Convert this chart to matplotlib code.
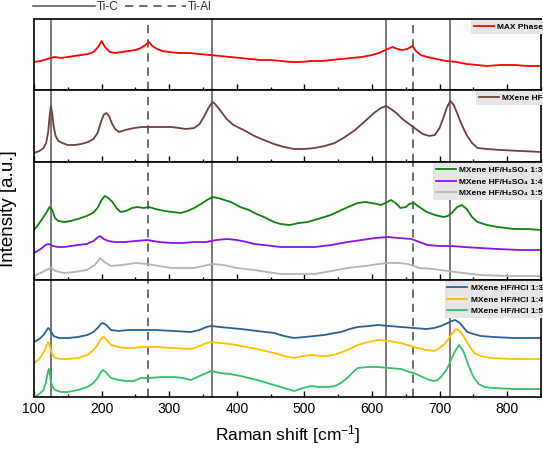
import numpy as np
import matplotlib.pyplot as plt
from matplotlib.lines import Line2D
from matplotlib.ticker import MultipleLocator

plt.rcParams["font.family"] = ["Liberation Sans", "DejaVu Sans"]
plt.rcParams["mathtext.default"] = "regular"

# Ti-C / Ti-Al reference positions [cm-1]
ti_c = [125, 364, 620, 715]
ti_al = [268, 660]

# MAX phase
max_x = [100, 110, 120, 130, 140, 150, 160, 170, 180, 188, 195, 200, 205, 212, 220, 230, 240, 250, 258,
         265, 270, 275, 282, 290, 300, 315, 330, 345, 360, 375, 390, 405, 420, 435, 450, 465, 480, 495,
         510, 525, 540, 555, 570, 585, 600, 610, 620, 630, 638, 645, 652, 660, 665, 672, 682, 695, 710,
         725, 740, 755, 770, 790, 810, 830, 850]
max_y = [28, 29, 31, 33, 32, 33, 34, 35, 36, 38, 43, 49, 43, 38, 37, 38, 39, 40, 42,
         45, 48, 44, 41, 39, 38, 37, 37, 36, 35, 34, 33, 32, 31, 30, 30, 29, 28, 28,
         29, 29, 30, 31, 32, 33, 35, 37, 40, 43, 41, 40, 41, 44, 39, 35, 33, 31, 29,
         28, 26, 25, 24, 25, 25, 24, 24]

# MXene HF
hf_x = [100, 108, 114, 118, 121, 123, 125, 127, 129, 132, 136, 142, 150, 160, 170, 180, 188, 194, 199,
        203, 207, 211, 215, 220, 226, 235, 248, 260, 275, 290, 303, 315, 325, 337, 345, 352, 358, 364,
        368, 375, 385, 395, 410, 426, 440, 455, 470, 485, 500, 515, 530, 545, 560, 575, 590, 603, 613,
        621, 628, 636, 645, 655, 665, 675, 685, 693, 700, 706, 711, 716, 721, 727, 733, 740, 748, 756,
        770, 790, 820, 850]
hf_y = [9, 11, 14, 19, 30, 45, 56, 48, 36, 26, 21, 19, 17, 17, 18, 20, 23, 29, 40,
        47, 49, 46, 39, 33, 30, 32, 34, 35, 35, 35, 35, 34, 33, 34, 38, 46, 54, 60,
        58, 52, 43, 37, 32, 26, 22, 18, 15, 13, 13, 14, 16, 19, 25, 32, 41, 49, 54,
        56, 53, 49, 43, 38, 33, 28, 26, 27, 34, 45, 55, 61, 57, 47, 37, 27, 19, 14,
        13, 12, 11, 10]

# MXene HF/H2SO4
s13_x = [100, 106, 113, 118, 123, 127, 131, 136, 145, 154, 165, 178, 187, 194, 200, 205, 210, 216, 222,
         228, 236, 245, 253, 262, 270, 280, 293, 305, 317, 327, 337, 347, 356, 364, 372, 382, 391, 405,
         418, 426, 440, 455, 465, 478, 492, 505, 520, 539, 555, 568, 579, 590, 599, 607, 613, 620, 628,
         635, 642, 650, 655, 662, 670, 681, 693, 706, 712, 718, 726, 733, 740, 748, 756, 770, 786, 810,
         830, 850]
s13_y = [50, 55, 62, 67, 73, 70, 62, 59, 58, 59, 61, 64, 67, 72, 80, 84, 82, 78, 72,
         68, 69, 72, 73, 72, 73, 71, 69, 68, 67, 69, 72, 76, 80, 83, 82, 80, 78, 73,
         70, 67, 63, 58, 56, 55, 57, 58, 61, 65, 70, 74, 77, 78, 77, 76, 75, 77, 80,
         77, 72, 73, 76, 77, 73, 68, 65, 63, 64, 67, 73, 75, 71, 63, 58, 55, 53, 51,
         51, 50]
s14_x = [100, 110, 117, 122, 128, 135, 145, 155, 165, 178, 188, 195, 198, 203, 210, 219, 235, 250, 268,
         285, 303, 320, 337, 355, 370, 386, 400, 415, 426, 440, 452, 465, 490, 515, 540, 564, 585, 605,
         623, 640, 658, 670, 682, 700, 718, 736, 760, 786, 820, 850]
s14_y = [27, 31, 35, 36, 34, 33, 33, 34, 35, 36, 39, 43, 44, 41, 39, 38, 38, 39, 40,
         38, 37, 37, 38, 38, 40, 41, 40, 38, 36, 35, 34, 33, 33, 33, 35, 38, 40, 42,
         43, 42, 41, 38, 35, 34, 34, 33, 32, 31, 30, 30]
s15_x = [100, 110, 118, 125, 132, 145, 160, 178, 190, 198, 204, 214, 230, 251, 268, 285, 303, 320, 337,
         350, 364, 380, 400, 426, 445, 465, 490, 515, 540, 564, 590, 610, 623, 640, 653, 662, 670, 690,
         712, 735, 761, 800, 850]
s15_y = [4, 7, 10, 12, 9, 7, 8, 10, 15, 22, 18, 14, 15, 17, 16, 14, 12, 12, 12,
         14, 16, 15, 12, 10, 8, 6, 6, 6, 9, 12, 14, 16, 17, 17, 16, 14, 12, 11,
         9, 7, 5, 4, 4]

# MXene HF/HCl
c13_x = [100, 108, 114, 118, 121, 124, 129, 137, 150, 165, 179, 188, 194, 199, 202, 207, 214, 225, 240,
         258, 280, 307, 332, 345, 355, 362, 375, 390, 406, 430, 455, 470, 485, 500, 515, 529, 545, 554,
         567, 579, 595, 609, 625, 643, 662, 680, 692, 702, 712, 718, 723, 730, 736, 741, 750, 761, 780,
         810, 850]
c13_y = [55, 58, 62, 66, 69, 67, 61, 59, 59, 60, 62, 65, 69, 73, 74, 72, 67, 66, 67,
         67, 67, 66, 65, 67, 70, 71, 70, 69, 68, 66, 64, 61, 59, 60, 61, 62, 64, 65,
         68, 70, 71, 72, 71, 70, 69, 68, 69, 71, 74, 76, 77, 74, 69, 65, 63, 61, 60,
         59, 59]
c14_x = [100, 106, 111, 116, 119, 121, 123, 126, 131, 140, 150, 165, 179, 188, 194, 199, 203, 208, 214,
         225, 236, 248, 258, 280, 305, 332, 345, 355, 362, 375, 390, 406, 430, 455, 470, 485, 498, 510,
         522, 534, 548, 560, 570, 579, 594, 609, 625, 643, 662, 680, 692, 700, 706, 712, 718, 724, 730,
         737, 744, 751, 760, 776, 810, 850]
c14_y = [34, 37, 41, 47, 52, 55, 52, 44, 39, 38, 38, 39, 42, 47, 52, 58, 60, 57, 52,
         50, 49, 49, 50, 50, 49, 48, 51, 54, 55, 54, 53, 51, 48, 44, 41, 39, 41, 42,
         41, 41, 43, 46, 49, 52, 55, 57, 56, 54, 50, 47, 46, 49, 52, 57, 63, 68, 66,
         59, 51, 44, 41, 39, 38, 38]
c15_x = [100, 106, 111, 114, 117, 119, 121, 122, 123, 124.5, 127, 131, 140, 150, 165, 179, 188, 194,
         199, 202, 206, 214, 225, 236, 248, 258, 270, 290, 307, 320, 332, 345, 355, 362, 375, 390, 406,
         430, 455, 470, 485, 498, 510, 522, 534, 545, 554, 565, 572, 579, 594, 609, 625, 643, 655, 662,
         675, 685, 692, 697, 702, 710, 717, 723, 729, 735, 741, 746, 751, 758, 766, 780, 810, 850]
c15_y = [0, 2, 5, 7, 13, 20, 26, 28, 26, 17, 11, 7, 5, 5, 7, 10, 14, 19,
         25, 27, 25, 19, 17, 16, 16, 19, 19, 20, 20, 19, 17, 21, 24, 26, 24, 23, 21,
         17, 12, 9, 6, 9, 11, 10, 10, 11, 14, 20, 25, 29, 30, 30, 29, 28, 25, 24,
         20, 17, 16, 17, 20, 27, 37, 46, 52, 46, 35, 26, 19, 13, 10, 9, 8, 8]

panels = [
    [(max_x, max_y, "#ff0000", "MAX Phase")],
    [(hf_x, hf_y, "#6e4040", "MXene HF")],
    [(s13_x, s13_y, "#108010", "MXene HF/H\u2082SO\u2084 1:3"),
     (s14_x, s14_y, "#8a10f0", "MXene HF/H\u2082SO\u2084 1:4"),
     (s15_x, s15_y, "#b4b4b4", "MXene HF/H\u2082SO\u2084 1:5")],
    [(c13_x, c13_y, "#2d5f97", "MXene HF/HCl 1:3"),
     (c14_x, c14_y, "#ffc000", "MXene HF/HCl 1:4"),
     (c15_x, c15_y, "#33c26a", "MXene HF/HCl 1:5")],
]
ylims = [71, 72, 118, 117]

fig = plt.figure(figsize=(5.43, 4.49), dpi=100)
gs = fig.add_gridspec(4, 1, height_ratios=ylims, hspace=0,
                      left=0.0626, right=0.9963, bottom=0.1158, top=0.9577)

axes = []
for i, series in enumerate(panels):
    ax = fig.add_subplot(gs[i])
    for x, y, c, lab in series:
        ax.plot(x, y, color=c, lw=1.3, label=lab)
    for v in ti_c:
        ax.axvline(v, color="#555555", lw=1.1, zorder=0)
    for v in ti_al:
        ax.axvline(v, color="#555555", lw=1.2, ls=(0, (5, 3.5)), zorder=0)
    ax.set_xlim(100, 850)
    ax.set_ylim(0, ylims[i])
    ax.set_yticks([])
    ax.xaxis.set_major_locator(MultipleLocator(100))
    ax.xaxis.set_minor_locator(MultipleLocator(50))
    ax.tick_params(axis="x", which="major", direction="in", length=4, width=1, labelsize=10)
    ax.tick_params(axis="x", which="minor", direction="in", length=2, width=1)
    for s in ax.spines.values():
        s.set_linewidth(1.2)
    if i < 3:
        ax.tick_params(axis="x", labelbottom=False)
    leg = ax.legend(loc="upper right", bbox_to_anchor=(1.012, 1.0), borderaxespad=0.15,
                    prop={"weight": "bold", "size": 6}, handlelength=2.4, handletextpad=0.4,
                    labelspacing=0.45, borderpad=0.35, fancybox=False, framealpha=1)
    leg.get_frame().set_facecolor("#e6e6e6")
    leg.get_frame().set_edgecolor("none")
    axes.append(ax)

axes[-1].set_xlabel("Raman shift [cm$^{-1}$]", fontsize=12.5, labelpad=5)
fig.text(0.016, 0.535, "Intensity [a.u.]", rotation=90, va="center", ha="center", fontsize=13.5)

handles = [Line2D([], [], color="#555555", lw=1.1),
           Line2D([], [], color="#555555", lw=1.2, ls=(0, (5, 3.5)))]
fig.legend(handles, ["Ti-C", "Ti-Al"], loc="center left", bbox_to_anchor=(0.061, 0.984), ncol=2,
           frameon=False, handlelength=5.2, handletextpad=0.2, columnspacing=0.5,
           borderpad=0, borderaxespad=0, prop={"size": 8.5}, labelcolor="#333333")

fig.savefig("out.png", dpi=100)
